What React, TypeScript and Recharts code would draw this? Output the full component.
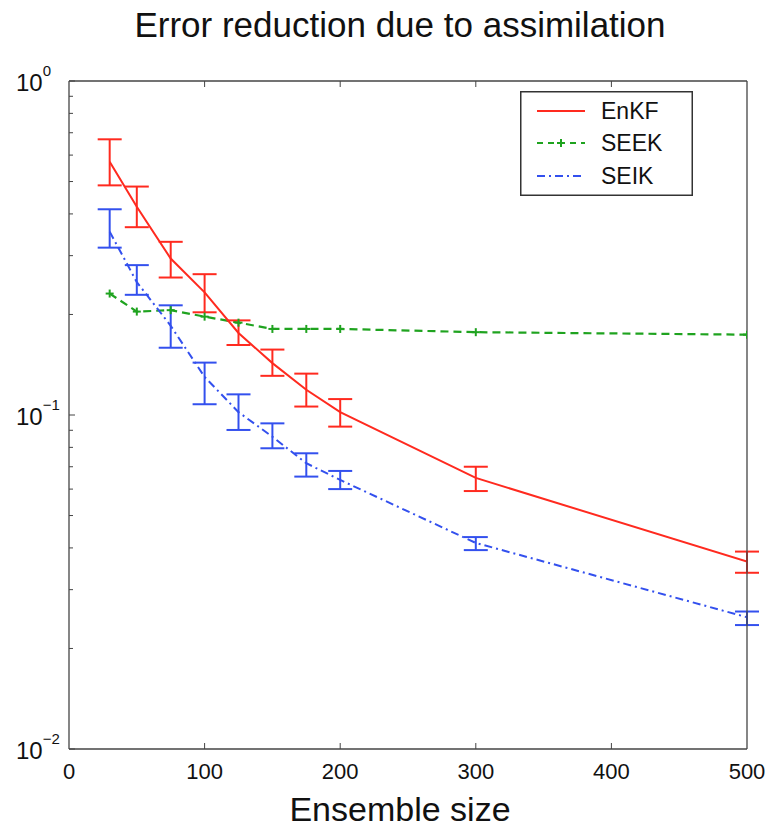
import { LineChart, Line, XAxis, YAxis, ErrorBar, Legend } from 'recharts';

const FONT = '"Liberation Sans", Arial, Helvetica, sans-serif';
const RED = '#ff2a1f';
const GREEN = '#1fa31f';
const BLUE = '#3350ee';
const AXIS = '#444';

const sizes = [30, 50, 75, 100, 125, 150, 175, 200, 300, 500];

const enkf = [0.573, 0.42, 0.294, 0.233, 0.176, 0.143, 0.119, 0.102, 0.0648, 0.0364];
const enkfLow = [0.487, 0.365, 0.258, 0.203, 0.162, 0.131, 0.106, 0.0923, 0.0592, 0.0337];
const enkfHigh = [0.669, 0.483, 0.33, 0.264, 0.192, 0.157, 0.133, 0.1116, 0.07, 0.039];

const seek = [0.231, 0.204, 0.206, 0.197, 0.189, 0.181, 0.181, 0.181, 0.177, 0.174];

const seik = [0.354, 0.25, 0.185, 0.13, 0.102, 0.0861, 0.0717, 0.0639, 0.0414, 0.0248];
const seikLow = [0.317, 0.229, 0.159, 0.1077, 0.0902, 0.0795, 0.0654, 0.06, 0.0394, 0.0235];
const seikHigh = [0.413, 0.281, 0.213, 0.1435, 0.1153, 0.0944, 0.0768, 0.068, 0.0431, 0.0258];

const xTicks = [0, 100, 200, 300, 400, 500];
const topTicks = [100, 200, 300, 400];
const yTicks = [
  0.01, 0.02, 0.03, 0.04, 0.05, 0.06, 0.07, 0.08, 0.09,
  0.1, 0.2, 0.3, 0.4, 0.5, 0.6, 0.7, 0.8, 0.9, 1,
];

const data = sizes.map((n, i) => ({
  n,
  enkf: enkf[i],
  enkfErr: [enkf[i] - enkfLow[i], enkfHigh[i] - enkf[i]],
  seek: seek[i],
  seik: seik[i],
  seikErr: [seik[i] - seikLow[i], seikHigh[i] - seik[i]],
}));

const isMajor = (v: number) => Math.abs(Math.log10(v) - Math.round(Math.log10(v))) < 1e-6;

const LeftTick = (props: any) => {
  const { x, y, payload } = props;
  const v = payload.value;
  const major = isMajor(v);
  const exp = Math.round(Math.log10(v));
  return (
    <g>
      <line x1={x} x2={x + (major ? 6 : 4)} y1={y} y2={y} stroke={AXIS} strokeWidth={1} />
      {major && (
        <text x={16} y={y + 10} fontSize={24} fill="#111" fontFamily={FONT}>
          10
          <tspan fontSize={15} dy={-15}>
            {exp === 0 ? '0' : '\u2212' + Math.abs(exp)}
          </tspan>
        </text>
      )}
    </g>
  );
};

const RightTick = (props: any) => {
  const { x, y, payload } = props;
  const major = isMajor(payload.value);
  return <line x1={x} x2={x - (major ? 6 : 4)} y1={y} y2={y} stroke={AXIS} strokeWidth={1} />;
};

const BottomTick = (props: any) => {
  const { x, y, payload } = props;
  const v = payload.value;
  return (
    <g>
      {v !== 0 && v !== 500 && (
        <line x1={x} x2={x} y1={y} y2={y - 6} stroke={AXIS} strokeWidth={1} />
      )}
      <text x={x} y={y + 30} textAnchor="middle" fontSize={22} fill="#111" fontFamily={FONT}>
        {v}
      </text>
    </g>
  );
};

const TopTick = (props: any) => {
  const { x, y } = props;
  return <line x1={x} x2={x} y1={y} y2={y + 6} stroke={AXIS} strokeWidth={1} />;
};

const PlusDot = (props: any) => {
  const { cx, cy, index } = props;
  if (cx == null || cy == null) return <g key={index} />;
  return (
    <g key={index}>
      <line x1={cx - 4} x2={cx + 4} y1={cy} y2={cy} stroke={GREEN} strokeWidth={2} />
      <line x1={cx} x2={cx} y1={cy - 4} y2={cy + 4} stroke={GREEN} strokeWidth={2} />
    </g>
  );
};

const legendItems = [
  { name: 'EnKF', color: RED, dash: undefined as string | undefined, plus: false, y: 20 },
  { name: 'SEEK', color: GREEN, dash: '6 5', plus: true, y: 52 },
  { name: 'SEIK', color: BLUE, dash: '8 4 2 4', plus: false, y: 85 },
];

const renderLegend = () => (
  <svg width={173} height={105} style={{ display: 'block' }}>
    <rect x={0.75} y={0.75} width={171.5} height={103.5} fill="#fff" stroke="#333" strokeWidth={1.5} />
    {legendItems.map((it) => (
      <g key={it.name}>
        <line
          x1={17}
          x2={65}
          y1={it.y}
          y2={it.y}
          stroke={it.color}
          strokeWidth={2}
          strokeDasharray={it.dash}
        />
        {it.plus && (
          <g>
            <line x1={37} x2={45} y1={it.y} y2={it.y} stroke={it.color} strokeWidth={2} />
            <line x1={41} x2={41} y1={it.y - 4} y2={it.y + 4} stroke={it.color} strokeWidth={2} />
          </g>
        )}
        <text x={81} y={it.y + 8} fontSize={23} fill="#111" fontFamily={FONT}>
          {it.name}
        </text>
      </g>
    ))}
  </svg>
);

export default function App() {
  return (
    <div
      style={{
        position: 'absolute',
        left: 0,
        top: 0,
        width: 774,
        height: 830,
        background: '#fff',
        fontFamily: FONT,
      }}
    >
      <div
        style={{
          position: 'absolute',
          left: 400,
          top: 7,
          transform: 'translateX(-50%)',
          whiteSpace: 'nowrap',
          fontSize: 35,
          lineHeight: '35px',
          color: '#111',
        }}
      >
        Error reduction due to assimilation
      </div>
      <div
        style={{
          position: 'absolute',
          left: 400,
          top: 794,
          transform: 'translateX(-50%)',
          whiteSpace: 'nowrap',
          fontSize: 34,
          lineHeight: '30px',
          color: '#111',
        }}
      >
        Ensemble size
      </div>
      <LineChart
        width={774}
        height={830}
        data={data}
        margin={{ top: 80, right: 26, bottom: 80, left: 68 }}
      >
        <XAxis
          xAxisId="bottom"
          dataKey="n"
          type="number"
          domain={[0, 500]}
          ticks={xTicks}
          interval={0}
          height={1}
          tickSize={0}
          tickMargin={0}
          tickLine={false}
          tick={<BottomTick />}
          axisLine={{ stroke: AXIS, strokeWidth: 1.3 }}
          allowDataOverflow
        />
        <XAxis
          xAxisId="top"
          orientation="top"
          dataKey="n"
          type="number"
          domain={[0, 500]}
          ticks={topTicks}
          interval={0}
          height={1}
          tickSize={0}
          tickMargin={0}
          tickLine={false}
          tick={<TopTick />}
          axisLine={{ stroke: AXIS, strokeWidth: 1.3 }}
        />
        <YAxis
          yAxisId="left"
          scale="log"
          type="number"
          domain={[0.01, 1]}
          ticks={yTicks}
          interval={0}
          width={1}
          tickSize={0}
          tickMargin={0}
          tickLine={false}
          tick={<LeftTick />}
          axisLine={{ stroke: AXIS, strokeWidth: 1.3 }}
          allowDataOverflow
        />
        <YAxis
          yAxisId="right"
          orientation="right"
          scale="log"
          type="number"
          domain={[0.01, 1]}
          ticks={yTicks}
          interval={0}
          width={1}
          tickSize={0}
          tickMargin={0}
          tickLine={false}
          tick={<RightTick />}
          axisLine={{ stroke: AXIS, strokeWidth: 1.3 }}
        />
        <Legend
          layout="horizontal"
          verticalAlign="middle"
          align="center"
          content={renderLegend}
          wrapperStyle={{ position: 'absolute', left: 520, top: 91, width: 173, height: 105 }}
        />
        <Line
          xAxisId="bottom"
          yAxisId="left"
          dataKey="seek"
          name="SEEK"
          stroke={GREEN}
          strokeWidth={2.2}
          strokeDasharray="8 5"
          dot={PlusDot}
          isAnimationActive={false}
        />
        <Line
          xAxisId="bottom"
          yAxisId="left"
          dataKey="seik"
          name="SEIK"
          stroke={BLUE}
          strokeWidth={2}
          strokeDasharray="8 4 2 4"
          dot={false}
          isAnimationActive={false}
        >
          <ErrorBar
            dataKey="seikErr"
            direction="y"
            width={12}
            strokeWidth={2}
            stroke={BLUE}
            isAnimationActive={false}
          />
        </Line>
        <Line
          xAxisId="bottom"
          yAxisId="left"
          dataKey="enkf"
          name="EnKF"
          stroke={RED}
          strokeWidth={2}
          dot={false}
          isAnimationActive={false}
        >
          <ErrorBar
            dataKey="enkfErr"
            direction="y"
            width={12}
            strokeWidth={2}
            stroke={RED}
            isAnimationActive={false}
          />
        </Line>
      </LineChart>
    </div>
  );
}
